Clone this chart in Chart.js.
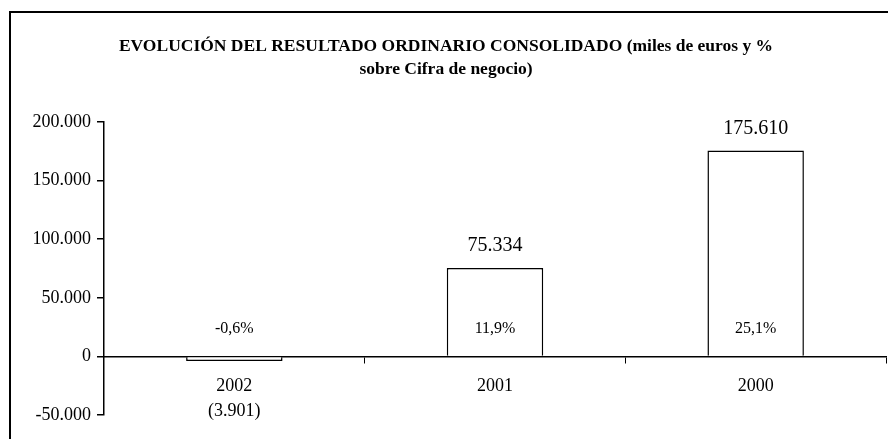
<!DOCTYPE html>
<html>
<head>
<meta charset="utf-8">
<script src="https://cdn.jsdelivr.net/npm/chart.js@4.4.1/dist/chart.umd.min.js"></script>
<style>
  html, body { margin: 0; padding: 0; background: #fff; }
  #wrap { width: 888px; height: 439px; position: relative; }
</style>
</head>
<body>
<div id="wrap"><canvas id="chart" width="888" height="439"></canvas></div>
<script>
const years = ['2002', '2001', '2000'];
const resultado = [-3901, 75334, 175610];
const pctCifra = [-0.6, 11.9, 25.1];
const yTicks = [-50000, 0, 50000, 100000, 150000, 200000];
const titleLines = [
  'EVOLUCIÓN DEL RESULTADO ORDINARIO CONSOLIDADO (miles de euros y %',
  'sobre Cifra de negocio)'
];

const SERIF = '"Liberation Serif", "Times New Roman", serif';

function fmtMiles(v) {
  return Math.abs(v).toString().replace(/\B(?=(\d{3})+(?!\d))/g, '.');
}
function fmtTick(v) {
  return (v < 0 ? '-' : '') + fmtMiles(v);
}
function fmtPct(v) {
  return v.toFixed(1).replace('.', ',') + '%';
}

const decor = {
  id: 'decor',
  beforeDraw(chart) {
    const ctx = chart.ctx;
    ctx.save();
    ctx.fillStyle = '#fff';
    ctx.fillRect(0, 0, chart.width, chart.height);
    // outer frame (only left and top edges are visible)
    ctx.strokeStyle = '#000';
    ctx.lineWidth = 2;
    ctx.beginPath();
    ctx.moveTo(10, chart.height);
    ctx.lineTo(10, 12);
    ctx.lineTo(chart.width, 12);
    ctx.stroke();
    // title
    ctx.fillStyle = '#000';
    ctx.font = 'bold 17.5px ' + SERIF;
    ctx.textAlign = 'center';
    ctx.textBaseline = 'middle';
    ctx.fillText(titleLines[0], 446, 46);
    ctx.fillText(titleLines[1], 446, 69);
    ctx.restore();
  },
  afterDatasetsDraw(chart) {
    const ctx = chart.ctx;
    const meta = chart.getDatasetMeta(0);
    const y0 = chart.scales.y.getPixelForValue(0);
    ctx.save();
    ctx.fillStyle = '#000';
    ctx.textAlign = 'center';
    ctx.textBaseline = 'middle';
    meta.data.forEach((bar, i) => {
      const v = resultado[i];
      ctx.font = '20px ' + SERIF;
      if (v >= 0) {
        ctx.fillText(fmtMiles(v), bar.x, bar.y - 22);
      } else {
        ctx.font = '18px ' + SERIF;
        ctx.fillText('(' + fmtMiles(v) + ')', bar.x, 411);
      }
      ctx.font = '16px ' + SERIF;
      ctx.fillText(fmtPct(pctCifra[i]), bar.x, y0 - 28);
    });
    ctx.restore();
  }
};

new Chart(document.getElementById('chart'), {
  type: 'bar',
  data: {
    labels: years,
    datasets: [{
      data: resultado,
      backgroundColor: '#fff',
      borderColor: '#000',
      borderWidth: 1.5,
      categoryPercentage: 1,
      barPercentage: 0.37
    }]
  },
  options: {
    responsive: false,
    animation: false,
    events: [],
    layout: { padding: { top: 122, left: 0, right: 2, bottom: 24 } },
    plugins: {
      legend: { display: false },
      tooltip: { enabled: false },
      title: { display: false }
    },
    scales: {
      x: {
        position: { y: 0 },
        offset: true,
        grid: { offset: true, drawOnChartArea: false, color: '#000', tickLength: 6, lineWidth: 1 },
        border: { color: '#000', width: 1.5 },
        ticks: { color: '#000', font: { family: SERIF, size: 18 }, padding: 13 }
      },
      y: {
        min: yTicks[0],
        max: yTicks[yTicks.length - 1],
        afterBuildTicks(scale) {
          scale.ticks = yTicks.map(v => ({ value: v }));
        },
        afterFit(scale) { scale.width = 104; },
        grid: { drawOnChartArea: false, color: '#000', tickLength: 7, lineWidth: 1.5 },
        border: { color: '#000', width: 1.5 },
        ticks: {
          color: '#000',
          font: { family: SERIF, size: 18 },
          padding: 6,
          callback: v => fmtTick(v)
        }
      }
    }
  },
  plugins: [decor]
});
</script>
</body>
</html>
